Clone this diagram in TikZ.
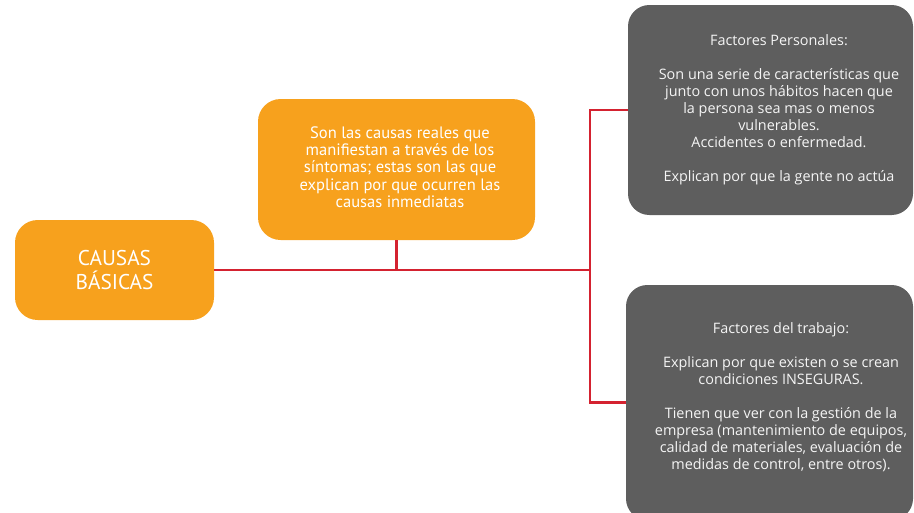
\documentclass[tikz,border=0pt]{standalone}
\usepackage{fontspec}
\setmainfont{Open Sans}
\newfontfamily\orfont{PT Sans}
\definecolor{orangebox}{HTML}{F7A11D}
\definecolor{graybox}{HTML}{5E5E5E}
\definecolor{redline}{HTML}{D42230}
\begin{document}
\begin{tikzpicture}[x=0.75pt,y=-0.75pt,
  obox/.style={fill=orangebox, rounded corners=17pt, inner sep=0pt, text=white, align=center},
  gbox/.style={fill=graybox, rounded corners=16pt, inner sep=0pt},
  gtext/.style={text=white!94!graybox, align=center, inner sep=0pt, font=\fontsize{10.8}{12.75}\selectfont},
  conn/.style={draw=redline, line width=1.8pt}]
\useasboundingbox (0,0) rectangle (914,512);
\clip (0,0) rectangle (914,512);
\node[obox, minimum width=149.25pt, minimum height=75pt, font=\orfont\fontsize{16}{17.5}\selectfont] (causas) at (114.5,270) {CAUSAS\\BÁSICAS};
\node[obox, minimum width=207.75pt, minimum height=105.75pt, anchor=center] (mid) at (396.5,169.5) {};
\node[text=white, align=center, inner sep=0pt, font=\orfont\fontsize{12.4}{13}\selectfont] (midt) at (400,167) {Son las causas reales que\\manifiestan a través de los\\síntomas; estas son las que\\explican por que ocurren las\\causas inmediatas};
\node[gbox, minimum width=213.75pt, minimum height=157.5pt] (p1) at (770.5,110) {};
\node[gtext] (p1t) at (779,110) {Factores Personales:\\[12.75pt]Son una serie de características que\\junto con unos hábitos hacen que\\la persona sea mas o menos\\vulnerables.\\Accidentes o enfermedad.\\[12.75pt]Explican por que la gente no actúa};
\node[gbox, minimum width=215.25pt, minimum height=176.25pt] (p2) at (769.5,402.5) {};
\node[gtext] (p2t) at (781,397) {Factores del trabajo:\\[12.75pt]Explican por que existen o se crean\\condiciones INSEGURAS.\\[12.75pt]Tienen que ver con la gestión de la\\empresa (mantenimiento de equipos,\\calidad de materiales, evaluación de\\medidas de control, entre otros).};
\coordinate (j) at (590,270);
\draw[conn] (causas.east) -- (j);
\draw[conn] (mid.south) -- (mid.south |- j);
\draw[conn] (p1.west) -| (j) |- (p2.west);
\end{tikzpicture}
\end{document}
